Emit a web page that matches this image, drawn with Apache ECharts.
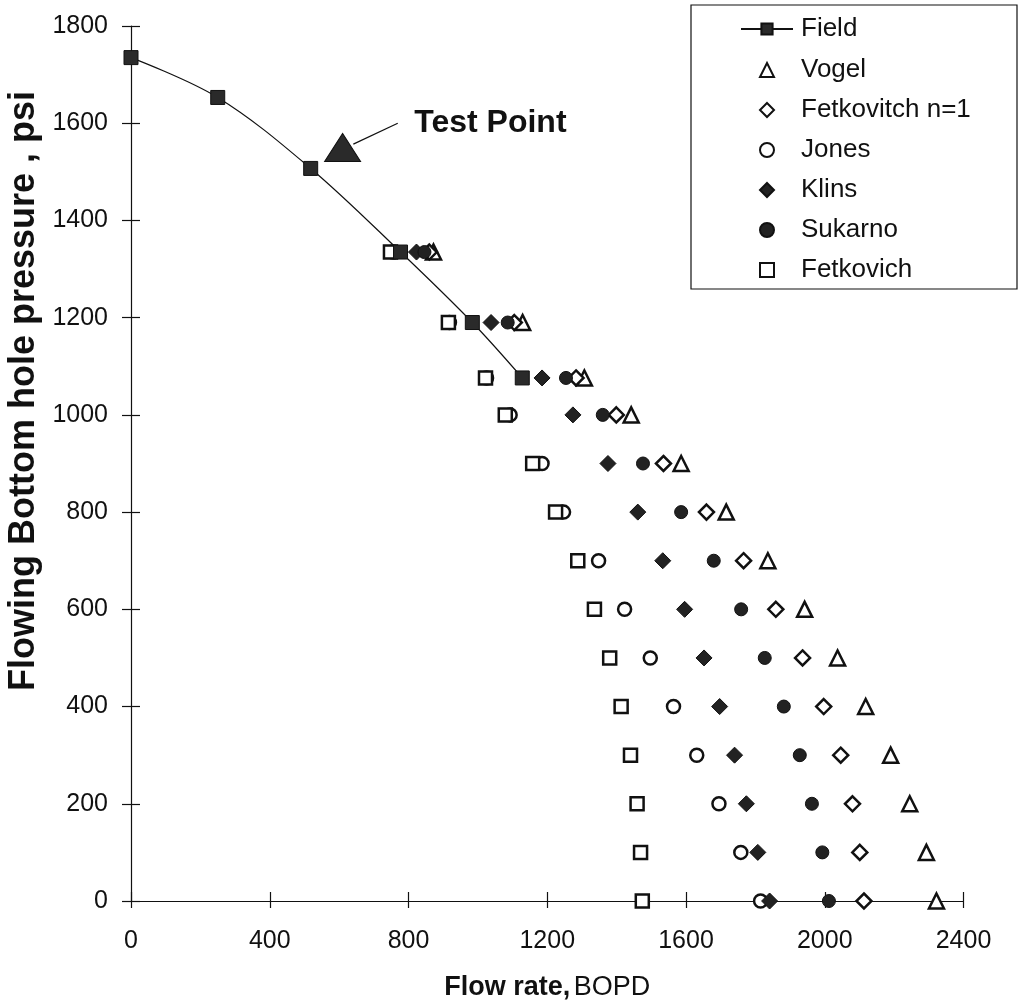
<!DOCTYPE html>
<html><head><meta charset="utf-8">
<script src="https://cdn.jsdelivr.net/npm/echarts@6/dist/echarts.min.js"></script>
<style>html,body{margin:0;padding:0;background:#fff}#c{width:1020px;height:1002px}</style>
</head><body><div id="c"></div>
<script>
const FONT = "'Liberation Sans', Arial, Helvetica, sans-serif";

// ---- data ----
const xMin = 0, xMax = 2400, xStep = 400;
const yMin = 0, yMax = 1800, yStep = 200;

const fieldRate     = [0, 250, 518, 777, 984, 1128];
const fieldPressure = [1735, 1653, 1507, 1335, 1190, 1076];

const pressures = [1335, 1190, 1076, 1000, 900, 800, 700, 600, 500, 400, 300, 200, 100, 0];
const vogel     = [872, 1129, 1307, 1442, 1586, 1716, 1836, 1942, 2037, 2118, 2190, 2245, 2293, 2322];
const fetkN1    = [860, 1105, 1283, 1399, 1535, 1659, 1766, 1859, 1936, 1997, 2046, 2080, 2101, 2113];
const jones     = [755, 918, 1025, 1093, 1185, 1247, 1348, 1423, 1497, 1564, 1631, 1695, 1758, 1815];
const klins     = [823, 1038, 1185, 1274, 1375, 1461, 1533, 1596, 1652, 1697, 1740, 1774, 1807, 1841];
const sukarno   = [846, 1086, 1254, 1360, 1476, 1586, 1680, 1759, 1827, 1882, 1928, 1963, 1993, 2012];
const fetkovich = [748, 915, 1022, 1079, 1158, 1224, 1288, 1336, 1380, 1413, 1440, 1459, 1469, 1474];

const testPoint   = [610, 1550];
const arrowStart  = [641, 1557];
const arrowEnd    = [769, 1600];
const testLabel   = 'Test Point';

const seriesNames = ['Field', 'Vogel', 'Fetkovitch n=1', 'Jones', 'Klins', 'Sukarno', 'Fetkovich'];
const xTitleBold = 'Flow rate,';
const xTitleNormal = 'BOPD';
const yTitle = 'Flowing Bottom hole pressure , psi';

// ---- build ----
const zipRows = arr => pressures.map((p, i) => [arr[i], p]);
const openStyle = { color: '#fff', borderColor: '#111', borderWidth: 2.5, opacity: 1 };
const filledStyle = { color: '#222', borderColor: '#111', borderWidth: 1, opacity: 1 };
const txt = { fontFamily: FONT, color: '#111' };
const plain = v => String(v);

function sc(name, data, symbol, size, style, z) {
  return { name, type: 'scatter', data, symbol, symbolSize: size, itemStyle: style, z: z || 3, silent: true };
}

const legendText = Object.assign({ fontSize: 26, lineHeight: 26 }, txt);

const chart = echarts.init(document.getElementById('c'), null, { renderer: 'canvas' });
chart.setOption({
  animation: false,
  backgroundColor: '#fff',
  grid: { left: 131, right: 56.5, top: 26, bottom: 101, containLabel: false, outerBoundsMode: 'none' },
  legend: [
    {
      orient: 'vertical', left: 691, top: 5, padding: [11, 0, 0, 49],
      itemWidth: 52, itemHeight: 14, itemGap: 14, selectedMode: false,
      textStyle: Object.assign({ padding: [0, 0, 0, 3] }, legendText),
      data: seriesNames.slice(0, 1)
    },
    {
      orient: 'vertical', left: 691, top: 5, padding: [52, 0, 0, 68],
      itemWidth: 14, itemHeight: 14, itemGap: 14, selectedMode: false,
      textStyle: Object.assign({ padding: [0, 0, 0, 22] }, legendText),
      data: seriesNames.slice(1)
    }
  ],
  xAxis: [
    {
      type: 'value', min: xMin, max: xMax, interval: xStep,
      axisLine: { show: true, lineStyle: { color: '#111', width: 1.2 } },
      axisTick: { show: true, length: 7, lineStyle: { color: '#111', width: 1.2 } },
      axisLabel: Object.assign({ fontSize: 25, margin: 28, formatter: plain }, txt),
      splitLine: { show: false },
      name: '{b|' + xTitleBold + '} {n|' + xTitleNormal + '}',
      nameLocation: 'middle', nameGap: 73,
      nameTextStyle: { rich: {
        b: Object.assign({ fontSize: 27, fontWeight: 'bold' }, txt),
        n: Object.assign({ fontSize: 27 }, txt)
      } }
    },
    {
      type: 'value', min: xMin, max: xMax, interval: xStep, position: 'bottom',
      axisLine: { show: false },
      axisTick: { show: true, inside: true, length: 9, lineStyle: { color: '#111', width: 1.2 } },
      axisLabel: { show: false }, splitLine: { show: false }
    }
  ],
  yAxis: [
    {
      type: 'value', min: yMin, max: yMax, interval: yStep,
      axisLine: { show: true, lineStyle: { color: '#111', width: 1.2 } },
      axisTick: { show: true, length: 9, lineStyle: { color: '#111', width: 1.2 } },
      axisLabel: Object.assign({ fontSize: 25, margin: 23, formatter: plain }, txt),
      splitLine: { show: false }
    },
    {
      type: 'value', min: yMin, max: yMax, interval: yStep, position: 'left',
      axisLine: { show: false },
      axisTick: { show: true, inside: true, length: 9, lineStyle: { color: '#111', width: 1.2 } },
      axisLabel: { show: false }, splitLine: { show: false }
    }
  ],
  graphic: [
    {
      type: 'text', x: 24, y: 391, rotation: Math.PI / 2,
      style: { text: yTitle, fill: '#111', font: 'bold 36px ' + FONT, textAlign: 'center', textVerticalAlign: 'middle' }
    },
    {
      type: 'rect', shape: { x: 691, y: 5, width: 326, height: 284 },
      style: { fill: 'none', stroke: '#111', lineWidth: 1.2 }, silent: true
    }
  ],
  series: [
    {
      name: seriesNames[0], type: 'line', data: fieldRate.map((x, i) => [x, fieldPressure[i]]),
      smooth: 0.35, symbol: 'rect', symbolSize: 14, showAllSymbol: true,
      lineStyle: { color: '#111', width: 1.2 },
      itemStyle: { color: '#2a2a2a', borderColor: '#111', borderWidth: 1, opacity: 1 }, z: 5, silent: true
    },
    sc(seriesNames[1], zipRows(vogel), 'triangle', 15, openStyle),
    sc(seriesNames[2], zipRows(fetkN1), 'diamond', 15, openStyle),
    sc(seriesNames[3], zipRows(jones), 'circle', 13, openStyle),
    sc(seriesNames[4], zipRows(klins), 'diamond', 16, filledStyle),
    sc(seriesNames[5], zipRows(sukarno), 'circle', 13, filledStyle),
    sc(seriesNames[6], zipRows(fetkovich), 'rect', 13, openStyle, 4),
    {
      name: 'Test', type: 'scatter', data: [testPoint], symbol: 'triangle', symbolSize: [36, 28],
      itemStyle: { color: '#2a2a2a', borderColor: '#111', borderWidth: 1, opacity: 1 }, silent: true, z: 6,
      markLine: {
        silent: true, symbol: ['none', 'none'], animation: false,
        lineStyle: { color: '#111', width: 1.2, type: 'solid' }, label: { show: false },
        data: [[{ coord: arrowStart }, { coord: arrowEnd }]]
      },
      markPoint: {
        silent: true, animation: false,
        data: [{
          coord: arrowEnd, symbol: 'circle', symbolSize: 1, itemStyle: { color: 'rgba(0,0,0,0)' },
          label: Object.assign({ show: true, position: 'right', distance: 16, formatter: testLabel,
            fontSize: 32, fontWeight: 'bold' }, txt)
        }]
      }
    }
  ]
});
</script></body></html>
